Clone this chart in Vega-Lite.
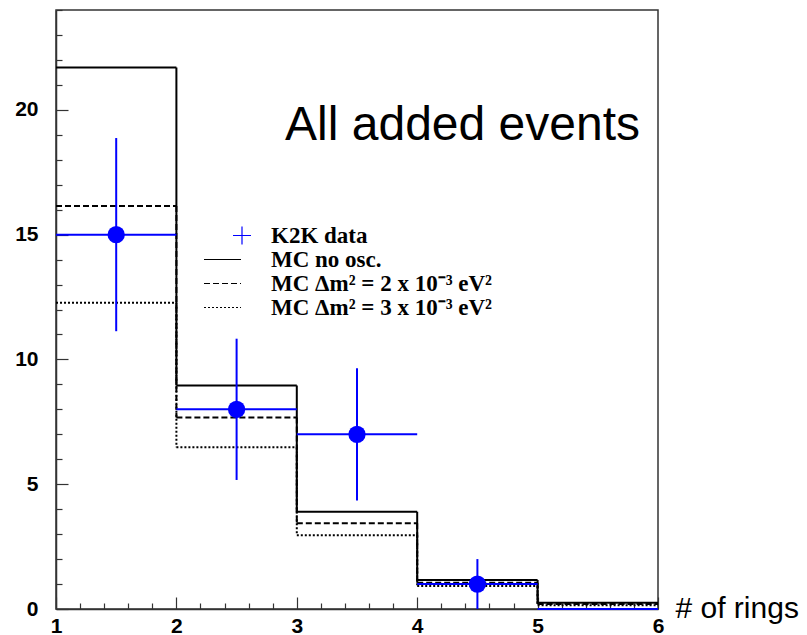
{
  "$schema": "https://vega.github.io/schema/vega-lite/v6.json",
  "width": 602,
  "height": 599,
  "autosize": {"type": "none"},
  "padding": {"left": 56, "top": 10, "right": 149, "bottom": 26},
  "background": "white",
  "title": {"text": "All added events", "anchor": "end", "orient": "top", "frame": "group", "offset": 0, "dx": -18, "dy": 179, "baseline": "alphabetic", "font": "Liberation Sans", "fontSize": 48, "fontWeight": "normal", "color": "black"},
  "config": {
    "view": {"stroke": "#333", "strokeWidth": 1.5},
    "axis": {"grid": false}
  },
  "datasets": {
    "hist": [
      {"series": "MC no osc.", "lo": 1, "hi": 2, "value": 21.7},
      {"series": "MC no osc.", "lo": 2, "hi": 3, "value": 8.95},
      {"series": "MC no osc.", "lo": 3, "hi": 4, "value": 3.9},
      {"series": "MC no osc.", "lo": 4, "hi": 5, "value": 1.16},
      {"series": "MC no osc.", "lo": 5, "hi": 6, "value": 0.25},
      {"series": "MC Δm² = 2 x 10⁻³ eV²", "lo": 1, "hi": 2, "value": 16.15},
      {"series": "MC Δm² = 2 x 10⁻³ eV²", "lo": 2, "hi": 3, "value": 7.67},
      {"series": "MC Δm² = 2 x 10⁻³ eV²", "lo": 3, "hi": 4, "value": 3.44},
      {"series": "MC Δm² = 2 x 10⁻³ eV²", "lo": 4, "hi": 5, "value": 1.05},
      {"series": "MC Δm² = 2 x 10⁻³ eV²", "lo": 5, "hi": 6, "value": 0.2},
      {"series": "MC Δm² = 3 x 10⁻³ eV²", "lo": 1, "hi": 2, "value": 12.27},
      {"series": "MC Δm² = 3 x 10⁻³ eV²", "lo": 2, "hi": 3, "value": 6.48},
      {"series": "MC Δm² = 3 x 10⁻³ eV²", "lo": 3, "hi": 4, "value": 2.95},
      {"series": "MC Δm² = 3 x 10⁻³ eV²", "lo": 4, "hi": 5, "value": 0.92},
      {"series": "MC Δm² = 3 x 10⁻³ eV²", "lo": 5, "hi": 6, "value": 0.15}
    ],
    "k2k": [
      {"series": "K2K data", "lo": 1, "hi": 2, "mid": 1.5, "n": 15, "ylo": 11.13, "yhi": 18.87},
      {"series": "K2K data", "lo": 2, "hi": 3, "mid": 2.5, "n": 8, "ylo": 5.17, "yhi": 10.83},
      {"series": "K2K data", "lo": 3, "hi": 4, "mid": 3.5, "n": 7, "ylo": 4.35, "yhi": 9.65},
      {"series": "K2K data", "lo": 4, "hi": 5, "mid": 4.5, "n": 1, "ylo": 0, "yhi": 2},
      {"series": "K2K data", "lo": 5, "hi": 6, "mid": 5.5, "n": 0, "ylo": 0, "yhi": 0}
    ]
  },
  "resolve": {"axis": {"x": "independent", "y": "independent"}},
  "layer": [
    {
      "data": {"name": "hist"},
      "mark": {"type": "rule", "strokeWidth": 2},
      "encoding": {
        "x": {"field": "lo", "type": "quantitative",
          "scale": {"domain": [1, 6], "nice": false, "zero": false},
          "axis": {"orient": "bottom", "values": [1, 2, 3, 4, 5, 6], "tickSize": -12, "tickColor": "#333", "tickWidth": 1.2, "domainColor": "#333", "domainWidth": 1.5,
            "labelFont": "Liberation Sans", "labelFontWeight": "bold", "labelFontSize": 21, "labelColor": "black", "labelPadding": 18, "labelFlush": false, "labelOverlap": false,
            "title": "# of rings", "titleFont": "Liberation Sans", "titleFontWeight": "normal", "titleFontSize": 30, "titleColor": "black", "titleX": 619, "titleY": 8, "titleAlign": "left", "titleBaseline": "alphabetic", "titleAngle": 0}},
        "x2": {"field": "hi"},
        "y": {"field": "value", "type": "quantitative",
          "scale": {"domain": [0, 24], "nice": false},
          "axis": {"orient": "left", "values": [0, 5, 10, 15, 20], "tickSize": -12, "tickColor": "#333", "tickWidth": 1.2, "domainColor": "#333", "domainWidth": 1.5,
            "labelFont": "Liberation Sans", "labelFontWeight": "bold", "labelFontSize": 21, "labelColor": "black", "labelPadding": 30, "labelFlush": false, "labelOverlap": false, "title": null}},
        "color": {"field": "series", "type": "nominal",
          "scale": {"domain": ["K2K data", "MC no osc.", "MC Δm² = 2 x 10⁻³ eV²", "MC Δm² = 3 x 10⁻³ eV²"], "range": ["#0000ff", "black", "black", "black"]},
          "legend": {"orient": "none", "legendX": 155, "legendY": 214, "title": null, "padding": 0, "rowPadding": 0,
            "labelFont": "Liberation Serif", "labelFontWeight": "bold", "labelFontSize": 23, "labelColor": "black", "labelOffset": 37, "labelLimit": 0,
            "symbolType": "stroke", "symbolSize": 100, "symbolStrokeWidth": 1.2,
            "encode": {"symbols": {"update": {"shape": {"signal": "datum.index === 0 ? 'M2.1,0H5.7M3.9,-1.8V1.8' : 'M-3.7,0H3.7'"}}}}}},
        "strokeDash": {"field": "series", "type": "nominal",
          "scale": {"domain": ["K2K data", "MC no osc.", "MC Δm² = 2 x 10⁻³ eV²", "MC Δm² = 3 x 10⁻³ eV²"], "range": [[1, 0], [1, 0], [6, 3], [2, 2]]},
          "legend": {"orient": "none", "legendX": 155, "legendY": 214, "title": null, "padding": 0, "rowPadding": 0,
            "labelFont": "Liberation Serif", "labelFontWeight": "bold", "labelFontSize": 23, "labelColor": "black", "labelOffset": 37, "labelLimit": 0,
            "symbolType": "stroke", "symbolSize": 100, "symbolStrokeWidth": 1.2}}
      }
    },
    {
      "data": {"name": "hist"},
      "transform": [
        {"window": [{"op": "lag", "field": "value", "as": "prev"}], "groupby": ["series"], "sort": [{"field": "lo", "order": "ascending"}]},
        {"filter": "datum.prev != null"}
      ],
      "mark": {"type": "rule", "strokeWidth": 2},
      "encoding": {
        "x": {"field": "lo", "type": "quantitative",
          "axis": {"orient": "bottom", "values": [1.2, 1.4, 1.6, 1.8, 2.2, 2.4, 2.6, 2.8, 3.2, 3.4, 3.6, 3.8, 4.2, 4.4, 4.6, 4.8, 5.2, 5.4, 5.6, 5.8], "tickSize": -6, "tickColor": "#333", "tickWidth": 1.2, "labels": false, "domain": false, "title": null}},
        "y": {"field": "prev", "type": "quantitative",
          "axis": {"orient": "left", "values": [1, 2, 3, 4, 6, 7, 8, 9, 11, 12, 13, 14, 16, 17, 18, 19, 21, 22, 23, 24], "tickSize": -6, "tickColor": "#333", "tickWidth": 1.2, "labels": false, "domain": false, "title": null}},
        "y2": {"field": "value"},
        "color": {"field": "series", "type": "nominal"},
        "strokeDash": {"field": "series", "type": "nominal"}
      }
    },
    {
      "data": {"name": "k2k"},
      "mark": {"type": "rule", "strokeWidth": 2, "color": "#0000ff"},
      "encoding": {
        "x": {"field": "lo", "type": "quantitative", "axis": null},
        "x2": {"field": "hi"},
        "y": {"field": "n", "type": "quantitative", "axis": null}
      }
    },
    {
      "data": {"name": "k2k"},
      "transform": [{"filter": "datum.n > 0"}],
      "mark": {"type": "rule", "strokeWidth": 2, "color": "#0000ff"},
      "encoding": {
        "x": {"field": "mid", "type": "quantitative", "axis": null},
        "y": {"field": "ylo", "type": "quantitative", "axis": null},
        "y2": {"field": "yhi"}
      }
    },
    {
      "data": {"name": "k2k"},
      "transform": [{"filter": "datum.n > 0"}],
      "mark": {"type": "point", "shape": "circle", "filled": true, "size": 300, "opacity": 1, "color": "#0000ff"},
      "encoding": {
        "x": {"field": "mid", "type": "quantitative", "axis": null},
        "y": {"field": "n", "type": "quantitative", "axis": null}
      }
    }
  ]
}
